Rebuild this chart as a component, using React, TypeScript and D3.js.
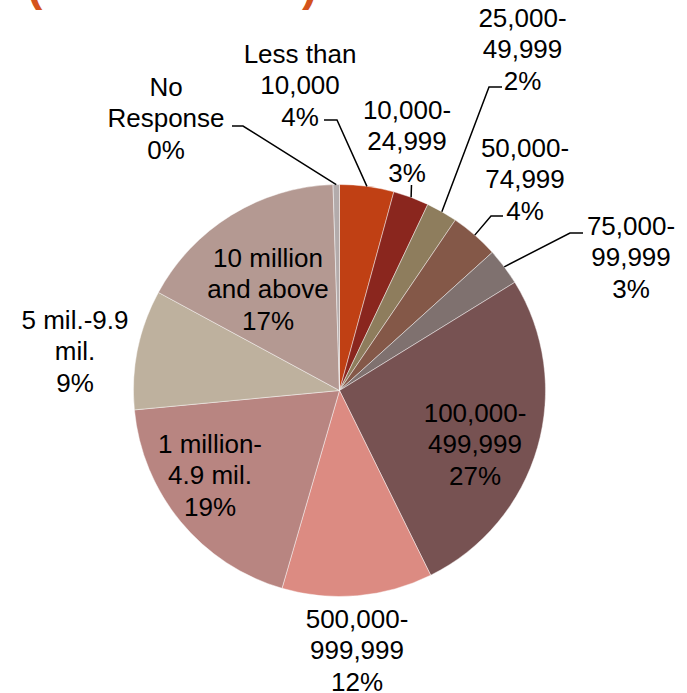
import React from 'react';
import * as d3 from 'd3';

// income brackets, clockwise from 12 o'clock
const categories = [
  'Less than 10,000',
  '10,000-24,999',
  '25,000-49,999',
  '50,000-74,999',
  '75,000-99,999',
  '100,000-499,999',
  '500,000-999,999',
  '1 million-4.9 mil.',
  '5 mil.-9.9 mil.',
  '10 million and above',
  'No Response',
];
const labelLines = [
  ['Less than', '10,000'],
  ['10,000-', '24,999'],
  ['25,000-', '49,999'],
  ['50,000-', '74,999'],
  ['75,000-', '99,999'],
  ['100,000-', '499,999'],
  ['500,000-', '999,999'],
  ['1 million-', '4.9 mil.'],
  ['5 mil.-9.9', 'mil.'],
  ['10 million', 'and above'],
  ['No', 'Response'],
];
const shares = [4.25, 2.8, 2.45, 3.8, 2.9, 26.5, 11.8, 19.0, 9.4, 16.6, 0.5];
const pctLabels = ['4%', '3%', '2%', '4%', '3%', '27%', '12%', '19%', '9%', '17%', '0%'];

const colors = [
  '#c04014', '#8a261e', '#8e7d5d', '#845848', '#7f716f', '#775252',
  '#dc8b82', '#b88581', '#beb19e', '#b49992', '#b3abab',
];

// label placement: x centre, first baseline, leader knee points (label side first)
const labelLayout: { x: number; y: number; leader?: [number, number][] }[] = [
  { x: 300, y: 63, leader: [[324, 120], [337, 120]] },
  { x: 407, y: 119, leader: [[411.5, 185]] },
  { x: 522.5, y: 27, leader: [[502, 87], [489, 87]] },
  { x: 525, y: 157, leader: [[503, 216], [491, 216]] },
  { x: 631, y: 235, leader: [[583, 233], [570, 233]] },
  { x: 475, y: 422 },
  { x: 357, y: 628 },
  { x: 210, y: 453 },
  { x: 75, y: 329 },
  { x: 268, y: 267 },
  { x: 166, y: 96, leader: [[232, 126], [243, 126]] },
];

const W = 687;
const H = 693;
const cx = 339.5;
const cy = 390.5;
const R = 206;
const lineH = 31.3;

export default function App() {
  const pie = d3.pie<number>().sort(null).value((d) => d);
  const arcs = pie(shares);
  const arc = d3.arc<d3.PieArcDatum<number>>().innerRadius(0).outerRadius(R);

  return (
    <svg
      width={W}
      height={H}
      style={{ position: 'absolute', left: 0, top: 0, background: '#fff' }}
      fontFamily="'Liberation Sans', Arial, sans-serif"
    >
      {/* cut-off title parentheses */}
      <text x={27} y={0} fontSize={46} fontWeight="bold" fill="#d4531b">(</text>
      <text x={302} y={0} fontSize={46} fontWeight="bold" fill="#d4531b">)</text>

      <g transform={`translate(${cx},${cy})`}>
        {arcs.map((a, i) => (
          <path
            key={categories[i]}
            d={arc(a) || ''}
            fill={colors[i]}
            stroke="#ffffff"
            strokeOpacity={0.55}
            strokeWidth={0.8}
          />
        ))}
      </g>

      {arcs.map((a, i) => {
        const lay = labelLayout[i];
        if (!lay.leader) return null;
        const mid = (a.startAngle + a.endAngle) / 2;
        const end: [number, number] = [cx + R * Math.sin(mid), cy - R * Math.cos(mid)];
        const pts = [...lay.leader, end];
        return (
          <path
            key={'l' + i}
            d={d3.line()(pts) || ''}
            fill="none"
            stroke="#000"
            strokeWidth={1.5}
          />
        );
      })}

      {labelLayout.map((lay, i) => (
        <text key={'t' + i} x={lay.x} y={lay.y} fontSize={26} textAnchor="middle" fill="#000">
          {[...labelLines[i], pctLabels[i]].map((s, j) => (
            <tspan key={j} x={lay.x} y={lay.y + j * lineH}>
              {s}
            </tspan>
          ))}
        </text>
      ))}
    </svg>
  );
}
